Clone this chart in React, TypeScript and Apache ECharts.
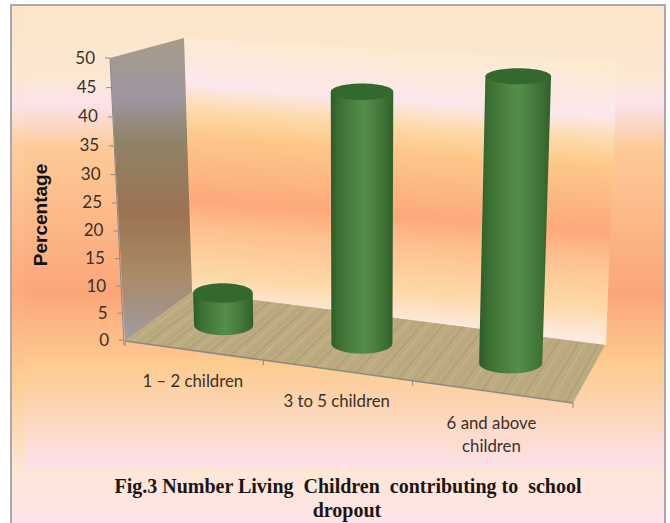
import React, { useEffect, useRef } from "react";
import * as echarts from "echarts";

const categories = ["1 – 2 children", "3 to 5 children", "6 and above\nchildren"];
const percentages = [6, 45, 49];
const yTicks = [0, 5, 10, 15, 20, 25, 30, 35, 40, 45, 50];
const yAxisTitle = "Percentage";
const captionLines = ["Fig.3 Number Living  Children  contributing to  school", "dropout"];

const W = 670;
const H = 523;
const PLOT = { left: 125, top: 58, width: 448, height: 282 };

// Warps a position along the category axis the way the receding floor does.
const warp = (u: number) => u + 0.11 * u * (u - 1);
const floorFront = (w: number): [number, number] => [125 + 448 * w, 341 + 62 * w];
const floorBack = (w: number): [number, number] => [192 + 413 * w, 292 + 53 * w];
const warpFromX = (px: number) => warp((px - PLOT.left) / PLOT.width);

// Wall foreshortening: equal value steps are slightly longer at the top.
const bowFraction = (t: number) => t + 0.056 * t * (t - 1);

const linear = (stops: [number, string][], x2 = 0, y2 = 1) =>
  new echarts.graphic.LinearGradient(0, 0, x2, y2, stops.map(([offset, color]) => ({ offset, color })));

const renderColumn = (_: any, api: any) => {
  const idx = api.value(0);
  const value = api.value(1);
  const foot = api.coord([idx, 0]);
  const head = api.coord([idx, value]);
  const band = api.size([1, 0])[0];
  const w = warpFromX(foot[0]);
  const front = floorFront(w);
  const back = floorBack(w);
  const bx = (front[0] + back[0]) / 2;
  const by = (front[1] + back[1]) / 2;
  const rise = ((foot[1] - head[1]) / PLOT.height) * (262 + 38 * w);
  const lean = -0.035 + 0.075 * w;
  const tx = bx + rise * lean;
  const ty = by - rise;
  const rb = band * (0.195 + 0.02 * w);
  const rt = rb * (1 + 0.05 * w);
  const ryb = 10;
  const ryt = 10 - 0.04 * value;
  const d = `M${tx - rt} ${ty} L${bx - rb} ${by} A${rb} ${ryb} 0 0 0 ${bx + rb} ${by} L${tx + rt} ${ty} Z`;
  return {
    type: "group",
    children: [
      {
        type: "path",
        shape: { pathData: d },
        style: {
          fill: linear(
            [
              [0, "#2e5c29"],
              [0.14, "#3c7033"],
              [0.54, "#558e4a"],
              [0.84, "#3f7336"],
              [1, "#31602b"],
            ],
            1,
            0
          ),
        },
      },
      {
        type: "ellipse",
        shape: { cx: tx, cy: ty, rx: rt, ry: ryt },
        style: { fill: "#33692f" },
      },
    ],
  };
};

const renderYTick = (_: any, api: any) => {
  const v = api.value(1);
  const p = api.coord([0, v]);
  const t = (PLOT.top + PLOT.height - p[1]) / PLOT.height;
  const y = PLOT.top + PLOT.height - bowFraction(t) * PLOT.height;
  const x = 124 - 14 * t;
  return {
    type: "group",
    children: [
      { type: "line", shape: { x1: x - 5, y1: y, x2: x, y2: y }, style: { stroke: "#8a8a8a", lineWidth: 1 } },
      {
        type: "text",
        style: {
          text: String(v),
          x: x - 15,
          y: y - 1,
          align: "right",
          verticalAlign: "middle",
          fill: "#3a3028",
          font: "17px Lato",
        },
      },
    ],
  };
};

const renderCategoryLabel = (_: any, api: any) => {
  const idx = api.value(0);
  const p = api.coord([idx, 0]);
  const f = floorFront(warpFromX(p[0]));
  return {
    type: "text",
    style: {
      text: categories[idx],
      x: f[0],
      y: f[1] + 19,
      align: "center",
      verticalAlign: "top",
      lineHeight: 23,
      fill: "#3a3028",
      font: "16.8px Lato",
    },
  };
};

const backWallFill = new echarts.graphic.LinearGradient(
  396,
  48,
  373,
  348,
  [
    { offset: 0, color: "#fcebd0" },
    { offset: 0.173, color: "#fce8ec" },
    { offset: 0.257, color: "#fddaa8" },
    { offset: 0.34, color: "#fdc88a" },
    { offset: 0.557, color: "#fca97b" },
    { offset: 0.657, color: "#fdc290" },
    { offset: 0.807, color: "#fdd9a8" },
    { offset: 0.94, color: "#fdeef0" },
    { offset: 1, color: "#fdeef0" },
  ],
  true
);

const floorTicks = [0, 1 / 3, 2 / 3, 1].map((u) => {
  const [x, y] = floorFront(warp(u));
  return { type: "line", shape: { x1: x, y1: y, x2: x, y2: y + 5 }, style: { stroke: "#8a8a8a", lineWidth: 1 } };
});

// Fine alternating grain that gives the floor its woven look.
const floorGrain: any[] = [];
for (let i = 1; i < 64; i++) {
  const f = floorFront(i / 64);
  const b = floorBack(i / 64);
  floorGrain.push({
    type: "line",
    silent: true,
    shape: { x1: f[0], y1: f[1], x2: b[0], y2: b[1] },
    style: {
      stroke: i % 3 === 0 ? "rgba(130,112,72,0.22)" : i % 3 === 1 ? "rgba(225,210,170,0.25)" : "rgba(160,140,95,0.16)",
      lineWidth: 1.5,
    },
  });
}

const backdrop: any[] = [
  {
    type: "rect",
    shape: { x: 11, y: 5, width: 654, height: 520 },
    style: {
      fill: linear([
        [0, "#fbe5c8"],
        [0.13, "#fbe7d2"],
        [0.19, "#fbe3e8"],
        [0.27, "#fdcf9f"],
        [0.55, "#fbaa7e"],
        [0.72, "#fdcd95"],
        [0.9, "#fde7d6"],
        [1, "#fce3ea"],
      ]),
      stroke: "#a6a8b4",
      lineWidth: 2,
    },
  },
  {
    type: "rect",
    shape: { x: 25, y: 7, width: 639, height: 461 },
    style: {
      fill: linear([
        [0, "#fbe6c9"],
        [0.15, "#fbe8d2"],
        [0.21, "#fce3ea"],
        [0.31, "#fdca96"],
        [0.62, "#fba67a"],
        [0.78, "#fdcc90"],
        [1, "#fce2ea"],
      ]),
    },
  },
  {
    type: "polygon",
    shape: { points: [[184, 38], [617, 62], [606, 345], [192, 292]] },
    style: { fill: backWallFill },
  },
  {
    type: "polygon",
    shape: { points: [[110, 58], [184, 38], [192, 292], [125, 341]] },
    style: {
      fill: linear([
        [0, "#a69c8a"],
        [0.2, "#9d96a0"],
        [0.34, "#8f8368"],
        [0.58, "#9c7352"],
        [0.78, "#aa8a64"],
        [1, "#a09ca4"],
      ]),
    },
  },
  {
    type: "polygon",
    shape: { points: [[125, 341], [192, 292], [605, 345], [573, 403]] },
    style: { fill: "#bcaa80" },
  },
  ...floorGrain,
  { type: "line", shape: { x1: 125, y1: 341, x2: 573, y2: 403 }, style: { stroke: "#8c8a80", lineWidth: 1.5 } },
  { type: "line", shape: { x1: 110, y1: 58, x2: 124, y2: 345 }, style: { stroke: "#8a8a8a", lineWidth: 1 } },
  ...floorTicks,
  {
    type: "text",
    x: 40,
    y: 215,
    rotation: Math.PI / 2,
    style: {
      text: yAxisTitle,
      align: "center",
      verticalAlign: "middle",
      fill: "#111",
      font: "bold 19px 'Liberation Sans'",
    },
  },
  ...captionLines.map((text, i) => ({
    type: "text",
    style: {
      text,
      x: i === 0 ? 348 : 347,
      y: 486 + i * 24,
      align: "center",
      verticalAlign: "middle",
      fill: "#1c1612",
      font: "bold 20px 'Liberation Serif'",
    },
  })),
];

export default function App() {
  const ref = useRef<HTMLDivElement>(null);
  useEffect(() => {
    document.body.style.margin = "0";
    const chart = echarts.init(ref.current!, null, { renderer: "svg" });
    chart.setOption({
      animation: false,
      backgroundColor: "#fff",
      graphic: { elements: backdrop },
      grid: {
        left: PLOT.left,
        top: PLOT.top,
        width: PLOT.width,
        height: PLOT.height,
      },
      xAxis: { type: "category", data: categories, show: false },
      yAxis: { type: "value", min: 0, max: 50, interval: 5, show: false },
      series: [
        {
          type: "custom",
          name: "ticks",
          z: 5,
          silent: true,
          clip: false,
          renderItem: renderYTick,
          data: yTicks.map((v) => [0, v]),
        },
        {
          type: "custom",
          name: "categories",
          z: 5,
          silent: true,
          clip: false,
          renderItem: renderCategoryLabel,
          data: categories.map((_, i) => [i, 0]),
        },
        {
          type: "custom",
          name: "Percentage",
          z: 6,
          silent: true,
          clip: false,
          renderItem: renderColumn,
          data: percentages.map((v, i) => [i, v]),
        },
      ],
    });
    return () => chart.dispose();
  }, []);
  return <div ref={ref} style={{ width: W, height: H }} />;
}
